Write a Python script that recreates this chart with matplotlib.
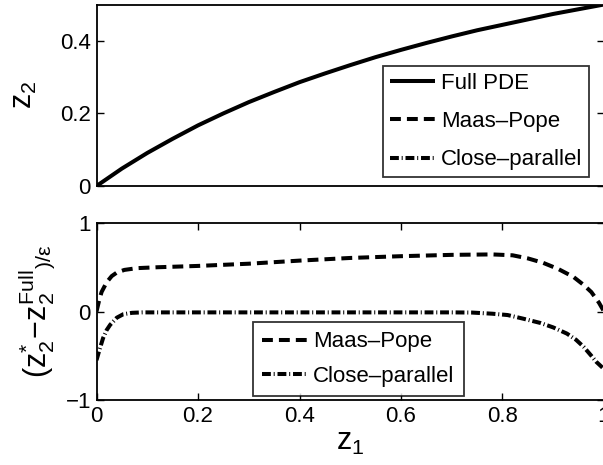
import matplotlib
matplotlib.use("Agg")
import matplotlib.pyplot as plt

plt.rcParams['font.family'] = ['Liberation Sans', 'DejaVu Sans']
plt.rcParams['mathtext.fontset'] = 'custom'
plt.rcParams['mathtext.rm'] = 'Liberation Sans'
plt.rcParams['mathtext.it'] = 'Liberation Sans'
plt.rcParams['mathtext.bf'] = 'Liberation Sans:bold'

# ---- data ----
z1_full = [0, 0.05, 0.1, 0.15, 0.2, 0.25, 0.3, 0.35, 0.4, 0.45, 0.5,
           0.55, 0.6, 0.65, 0.7, 0.75, 0.8, 0.85, 0.9, 0.95, 1.0]
z2_full = [0, 0.048, 0.091, 0.130, 0.167, 0.200, 0.231, 0.259, 0.286, 0.310, 0.333,
           0.355, 0.375, 0.394, 0.412, 0.429, 0.444, 0.459, 0.474, 0.487, 0.5]

z1_mp = [0, 0.005, 0.01, 0.02, 0.03, 0.04, 0.055, 0.08, 0.12, 0.2, 0.3, 0.4,
         0.5, 0.6, 0.7, 0.78, 0.82, 0.85, 0.88, 0.91, 0.94, 0.96, 0.975, 0.99, 1.0]
err_mp = [0.0, 0.12, 0.22, 0.33, 0.40, 0.44, 0.47, 0.49, 0.50, 0.515, 0.54, 0.575,
          0.605, 0.625, 0.64, 0.645, 0.635, 0.60, 0.55, 0.48, 0.39, 0.30, 0.22, 0.10, 0.0]

z1_cp = [0, 0.005, 0.013, 0.02, 0.027, 0.04, 0.053, 0.07, 0.09, 0.3, 0.5, 0.7,
         0.74, 0.78, 0.81, 0.84, 0.875, 0.9, 0.927, 0.945, 0.96, 0.975, 0.985, 1.0]
err_cp = [-0.55, -0.45, -0.30, -0.21, -0.15, -0.07, -0.03, -0.015, -0.01, -0.01, -0.01, -0.01,
          -0.012, -0.025, -0.04, -0.08, -0.13, -0.18, -0.25, -0.32, -0.40, -0.50, -0.57, -0.65]

labels_top = ['Full PDE', 'Maas\u2013Pope', 'Close\u2013parallel']

W, H = 603, 465
fig = plt.figure(figsize=(W / 100, H / 100), dpi=100)

left = 96.5 / W
width = (604.0 - 96.5) / W
ax1 = fig.add_axes([left, 1 - 186 / H, width, (186 - 4.5) / H])
ax2 = fig.add_axes([left, 1 - 400 / H, width, (400 - 223) / H])

lw = 2.9
dash = (2.7, 1.5)
dashdot = (2.2, 0.7, 0.25, 0.7)

ax1.plot(z1_full, z2_full, color='k', lw=lw, solid_capstyle='butt', label=labels_top[0])
# proxy lines for legend entries of the top panel
ax1.plot([], [], color='k', lw=lw, linestyle=(0, dash), label=labels_top[1])
ax1.plot([], [], color='k', lw=lw, linestyle=(0, dashdot), label=labels_top[2])
ax1.set_xlim(0, 1)
ax1.set_ylim(0, 0.5)
ax1.set_yticks([0, 0.2, 0.4])
ax1.set_yticklabels(['0', '0.2', '0.4'])
ax1.set_xticks([])

ax2.plot(z1_mp, err_mp, color='k', lw=lw, linestyle=(0, dash), label=labels_top[1])
ax2.plot(z1_cp, err_cp, color='k', lw=lw, linestyle=(0, dashdot), label=labels_top[2])
ax2.set_xlim(0, 1)
ax2.set_ylim(-1, 1)
ax2.set_yticks([-1, 0, 1])
ax2.set_xticks([0, 0.2, 0.4, 0.6, 0.8, 1.0])
ax2.set_xticklabels(['0', '0.2', '0.4', '0.6', '0.8', '1'])

for ax in (ax1, ax2):
    ax.tick_params(direction='in', length=5, width=1.0, labelsize=16,
                   top=True, right=True, pad=4)
    for s in ax.spines.values():
        s.set_linewidth(1.3)

fs_leg = 16
leg1 = ax1.legend(loc='lower right', bbox_to_anchor=((589 - 96.5) / 507.5, (186 - 177) / 181.5),
                  borderaxespad=0, fontsize=fs_leg, frameon=True, fancybox=False,
                  edgecolor='k', handlelength=2.05, handletextpad=0.25,
                  labelspacing=0.78, borderpad=0.3)
leg1.get_frame().set_linewidth(1.3)
leg2 = ax2.legend(loc='lower right', bbox_to_anchor=((464 - 96.5) / 507.5, (400 - 396) / 177),
                  borderaxespad=0, fontsize=fs_leg, frameon=True, fancybox=False,
                  edgecolor='k', handlelength=2.05, handletextpad=0.25,
                  labelspacing=0.6, borderpad=0.42)
leg2.get_frame().set_linewidth(1.3)

ax1.set_ylabel(r'$\mathrm{z}_2$', fontsize=22, labelpad=15)
ax2.set_ylabel(r'$(\mathrm{z}_2^{*}\!-\!\mathrm{z}_2^{\mathrm{Full}}{}_{)/\varepsilon}$', fontsize=22, labelpad=6)
ax2.set_xlabel(r'$\mathrm{z}_1$', fontsize=22, labelpad=0)

fig.savefig('out.png', dpi=100)
